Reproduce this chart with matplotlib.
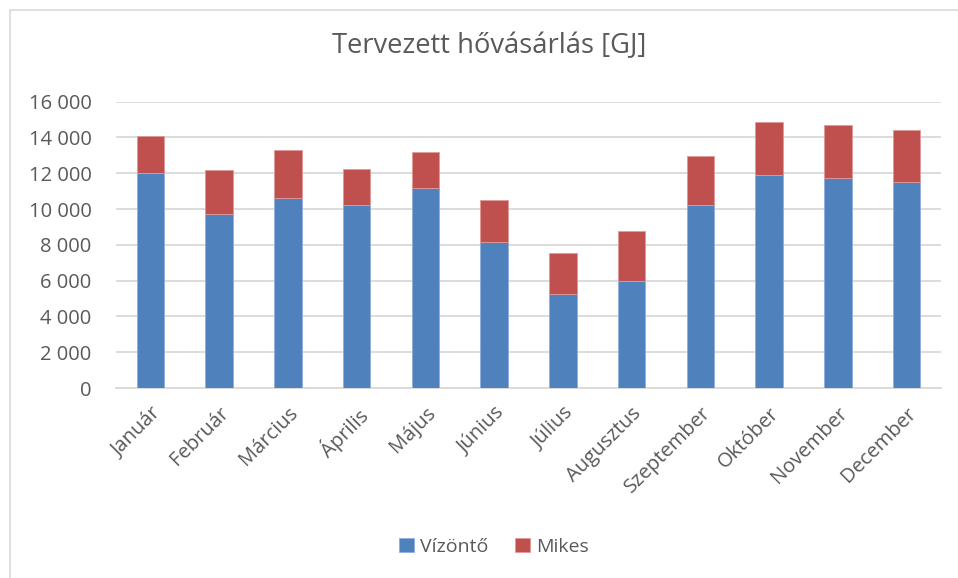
import numpy as np
import matplotlib
matplotlib.use("Agg")
import matplotlib.pyplot as plt
from matplotlib.patches import Rectangle
from matplotlib.ticker import FuncFormatter

plt.rcParams['font.family'] = ['Open Sans', 'DejaVu Sans']

#data
months = ['Január', 'Február', 'Március', 'Április', 'Május', 'Június',
          'Július', 'Augusztus', 'Szeptember', 'Október', 'November', 'December']
vizonto = [12030, 9750, 10630, 10200, 11150, 8170, 5280, 6000, 10240, 11880, 11710, 11540]
mikes = [2050, 2430, 2650, 2030, 2030, 2330, 2290, 2760, 2720, 2980, 2970, 2860]

blue = '#4F81BD'
red = '#C0504D'
txt = '#595959'
grid = '#D9D9D9'

fig = plt.figure(figsize=(9.58, 5.78), dpi=100)
ax = fig.add_axes([116/958, 1-388/578, (941-116)/958, (388-101.7)/578])

x = np.arange(len(months))
ax.bar(x, vizonto, width=0.4, color=blue, edgecolor='#8FAEDB', linewidth=0.6, label='Vízöntő', zorder=3)
ax.bar(x, mikes, width=0.4, bottom=vizonto, color=red, edgecolor='#E09A98', linewidth=0.6, label='Mikes', zorder=3)

ax.set_xlim(-0.5, len(months)-0.5)
ax.set_ylim(0, 16000)
ax.set_yticks(np.arange(0, 16001, 2000))
ax.yaxis.set_major_formatter(FuncFormatter(lambda v, p: f'{int(v):,}'.replace(',', ' ')))
ax.grid(axis='y', color=grid, linewidth=1.3, zorder=0)
for s in ['top', 'right', 'left']:
    ax.spines[s].set_visible(False)
ax.spines['bottom'].set_color(grid)
ax.spines['bottom'].set_linewidth(1.3)
ax.tick_params(axis='both', length=0, colors=txt, labelsize=14.5)
ax.tick_params(axis='y', pad=17.5)
ax.tick_params(axis='x', pad=11)
ax.set_xticks(x)
ax.set_xticklabels(months, rotation=45, ha='right', rotation_mode='anchor')

fig.text(489/958, 1-46/578, 'Tervezett hővásárlás [GJ]', ha='center', va='center', fontsize=19.7, color=txt)

leg = fig.legend(loc='center', bbox_to_anchor=(494/958, 1-547/578), ncol=2, frameon=False,
                 fontsize=14, handlelength=0.75, handleheight=0.75, handletextpad=0.3, columnspacing=1.4)
for t in leg.get_texts():
    t.set_color(txt)

#chart border
fig.patches.append(Rectangle((10/958, -0.1), 1.2, 1-10/578+0.1, transform=fig.transFigure,
                             fill=False, edgecolor='#D9D9D9', linewidth=1.2))

fig.savefig('out.png', dpi=100)
